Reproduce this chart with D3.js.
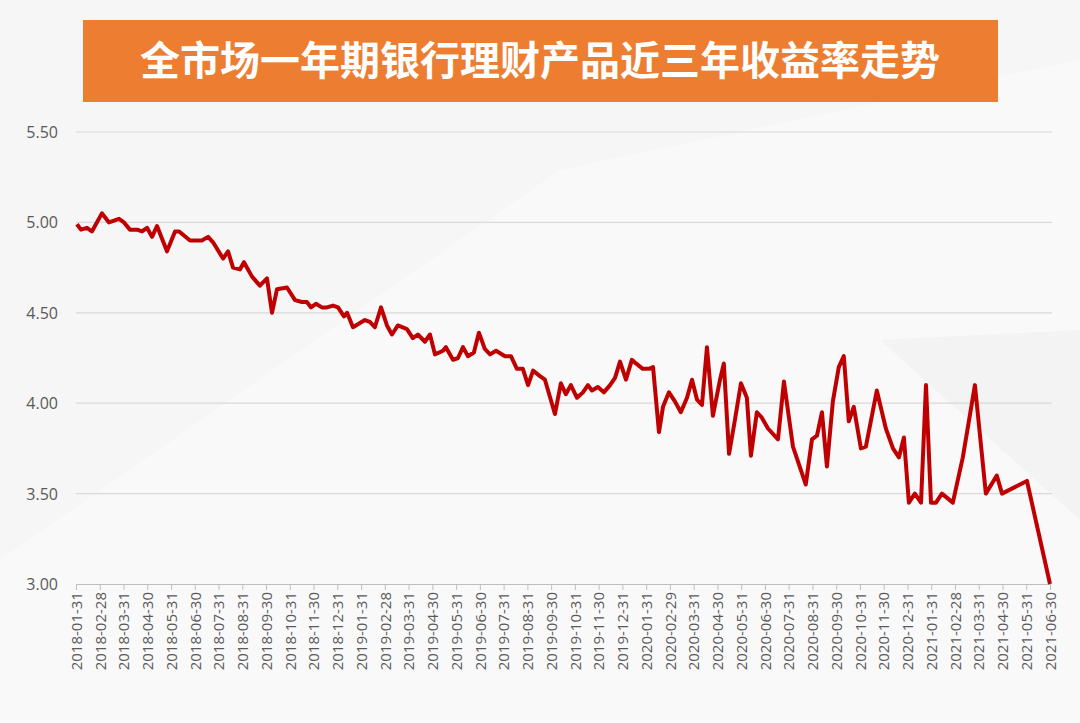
<!DOCTYPE html>
<html>
<head>
<meta charset="UTF-8" />
<title>全市场一年期银行理财产品近三年收益率走势</title>
<style>
  body { margin: 0; background: #f6f6f6; }
  svg { display: block; }
</style>
<script src="https://d3js.org/d3.v7.min.js"></script>
</head>
<body>
<svg id="viz" width="1080" height="723"></svg>
<script>
// month labels (month-end dates)
var tickLabels = [];
for (var y = 2018; y <= 2021; y++) {
  for (var m = 1; m <= 12; m++) {
    if (y === 2021 && m > 6) break;
    var last = new Date(y, m, 0).getDate();
    tickLabels.push(y + "-" + String(m).padStart(2, "0") + "-" + last);
  }
}
// position in months since 2018-01-31
var monthPos = [0.04,0.21,0.46,0.67,1.09,1.39,1.81,2.02,2.27,2.57,2.78,2.99,3.20,3.41,3.83,4.17,4.34,4.80,5.30,5.56,5.77,6.19,6.40,6.61,6.90,7.07,7.41,7.74,8.04,8.25,8.46,8.88,9.22,9.51,9.72,9.89,10.10,10.35,10.56,10.82,11.03,11.28,11.41,11.66,12.16,12.37,12.58,12.84,13.09,13.30,13.55,13.93,14.18,14.39,14.69,14.90,15.11,15.45,15.57,15.87,16.08,16.29,16.50,16.75,16.96,17.21,17.43,17.68,18.06,18.31,18.56,18.81,19.03,19.24,19.53,19.74,20.16,20.41,20.62,20.83,21.09,21.34,21.55,21.72,21.97,22.22,22.48,22.69,22.90,23.15,23.40,23.57,23.86,24.12,24.29,24.54,24.71,24.96,25.21,25.46,25.72,25.93,26.14,26.35,26.56,26.81,27.11,27.27,27.49,27.74,27.99,28.24,28.41,28.66,28.87,29.13,29.55,29.80,30.18,30.72,30.98,31.19,31.40,31.61,31.86,32.11,32.32,32.53,32.74,33.04,33.25,33.71,34.09,34.39,34.64,34.85,35.06,35.31,35.57,35.78,35.99,36.20,36.45,36.91,37.33,37.84,38.30,38.76,38.98,40.03,41.00];
var yieldVals = [4.99,4.96,4.97,4.95,5.05,5.00,5.02,5.00,4.96,4.96,4.95,4.97,4.92,4.98,4.84,4.95,4.95,4.90,4.90,4.92,4.89,4.80,4.84,4.75,4.74,4.78,4.70,4.65,4.69,4.50,4.63,4.64,4.57,4.56,4.56,4.53,4.55,4.53,4.53,4.54,4.53,4.48,4.50,4.42,4.46,4.45,4.42,4.53,4.43,4.38,4.43,4.41,4.36,4.38,4.34,4.38,4.27,4.29,4.31,4.24,4.25,4.31,4.26,4.28,4.39,4.30,4.27,4.29,4.26,4.26,4.19,4.19,4.10,4.18,4.15,4.13,3.94,4.11,4.05,4.10,4.03,4.06,4.10,4.07,4.09,4.06,4.10,4.14,4.23,4.13,4.24,4.22,4.19,4.19,4.20,3.84,3.98,4.06,4.01,3.95,4.03,4.13,4.02,3.99,4.31,3.93,4.13,4.22,3.72,3.91,4.11,4.03,3.71,3.95,3.92,3.86,3.80,4.12,3.76,3.55,3.80,3.82,3.95,3.65,4.01,4.20,4.26,3.90,3.98,3.75,3.76,4.07,3.86,3.75,3.70,3.81,3.45,3.50,3.45,4.10,3.45,3.45,3.50,3.45,3.70,4.10,3.50,3.60,3.50,3.57,3.00];
var yTicks = [3.0, 3.5, 4.0, 4.5, 5.0, 5.5];

var svg = d3.select("#viz");

// faint background shapes
svg.append("rect").attr("width", 1080).attr("height", 723).attr("fill", "#f6f6f6");
svg.append("path").attr("d", "M0,560 L560,170 L1080,60 L1080,723 L0,723 Z").attr("fill", "#f9f9f9");
svg.append("path").attr("d", "M880,340 L1080,330 L1080,520 Z").attr("fill", "#f3f3f3");

// title box
svg.append("rect").attr("x", 83).attr("y", 20).attr("width", 915).attr("height", 82).attr("fill", "#ED7D31");
svg.append("text").attr("x", 540).attr("y", 75).attr("text-anchor", "middle")
  .attr("fill", "#fff").attr("font-size", 40).attr("font-weight", "bold")
  .attr("font-family", "'Noto Sans CJK SC', sans-serif")
  .text("全市场一年期银行理财产品近三年收益率走势");

var x = d3.scaleLinear().domain([0, 41]).range([76, 1050]);
var yS = d3.scaleLinear().domain([3, 5.5]).range([584, 132]);

// gridlines
svg.append("g").selectAll("line").data(yTicks.slice(1)).join("line")
  .attr("x1", 76).attr("x2", 1052)
  .attr("y1", d => yS(d)).attr("y2", d => yS(d))
  .attr("stroke", "#d9d9d9").attr("stroke-width", 1.2);

// y labels
svg.append("g").selectAll("text").data(yTicks).join("text")
  .attr("x", 58).attr("y", d => yS(d) + 6).attr("text-anchor", "end")
  .attr("fill", "#595959").attr("font-size", 16)
  .attr("font-family", "'Open Sans', sans-serif")
  .text(d => d.toFixed(2));

// x axis
var xAxis = d3.axisBottom(x)
  .tickValues(d3.range(tickLabels.length))
  .tickFormat(i => tickLabels[i]).tickSizeOuter(0).tickSize(6);
var gx = svg.append("g").attr("transform", "translate(0,584)").call(xAxis);
gx.select(".domain").attr("stroke", "#bfbfbf");
gx.selectAll(".tick line").attr("stroke", "#bfbfbf");
gx.selectAll(".tick text")
  .attr("transform", "rotate(-90)").attr("text-anchor", "end")
  .attr("x", -8).attr("y", 0).attr("dy", "0.35em")
  .attr("fill", "#595959").attr("font-size", 15)
  .attr("font-family", "'Open Sans', sans-serif");

// line
var pts = monthPos.map((m, i) => [m, yieldVals[i]]);
svg.append("path").datum(pts)
  .attr("d", d3.line().x(d => x(d[0])).y(d => yS(d[1])))
  .attr("fill", "none").attr("stroke", "#C00000").attr("stroke-width", 4)
  .attr("stroke-linejoin", "round");
</script>
</body>
</html>
